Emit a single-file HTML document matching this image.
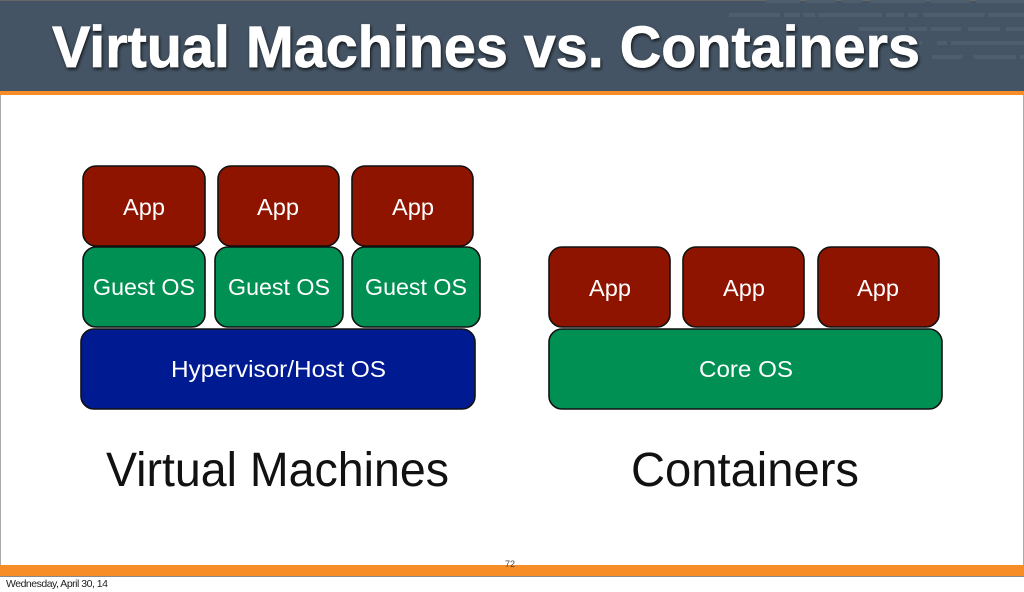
<!DOCTYPE html>
<html>
<head>
<meta charset="utf-8">
<style>
html,body{margin:0;padding:0;background:#fff;width:1024px;height:592px;overflow:hidden}
svg{display:block}
text{font-family:"Liberation Sans",sans-serif}
.l{fill:#fff;font-size:23px;text-anchor:start}
.b{fill:#111;font-size:48px}
</style>
</head>
<body>
<svg width="1024" height="592" viewBox="0 0 1024 592" xmlns="http://www.w3.org/2000/svg">
<defs>
<filter id="s" x="-5%" y="-20%" width="110%" height="150%"><feDropShadow dx="1" dy="2" stdDeviation="1.5" flood-color="#000" flood-opacity=".75"/></filter>
</defs>
<rect width="1024" height="592" fill="#fff"/>
<rect x="0" y="95" width="1" height="470" fill="#aaa"/>
<rect x="1023" y="95" width="1" height="470" fill="#aaa"/>
<rect width="1024" height="91" fill="#445464"/>
<rect width="1024" height="1" fill="#666"/>
<rect y="91" width="1024" height="4" fill="#f68d26"/>
<g fill="#4e5e6d">
<rect x="766" y="0" width="30" height="3"/><rect x="786" y="0" width="14" height="3"/><rect x="806" y="0" width="30" height="3"/><rect x="842" y="0" width="20" height="3"/><rect x="870" y="0" width="56" height="3"/><rect x="930" y="0" width="40" height="3"/><rect x="976" y="0" width="48" height="3"/>
<rect x="729" y="13" width="51" height="4"/><rect x="784" y="13" width="16" height="4"/><rect x="803" y="13" width="12" height="4"/><rect x="818" y="13" width="64" height="4"/><rect x="886" y="13" width="18" height="4"/><rect x="908" y="13" width="10" height="4"/><rect x="923" y="13" width="62" height="4"/><rect x="988" y="13" width="36" height="4"/>
<rect x="859" y="27" width="46" height="4"/><rect x="909" y="27" width="18" height="4"/><rect x="931" y="27" width="30" height="4"/><rect x="968" y="27" width="32" height="4"/><rect x="1006" y="27" width="18" height="4"/>
<rect x="900" y="41" width="22" height="4"/><rect x="937" y="41" width="10" height="4"/><rect x="951" y="41" width="73" height="4"/>
<rect x="932" y="55" width="30" height="4"/><rect x="974" y="55" width="42" height="4"/><rect x="1020" y="55" width="4" height="4"/>
</g>
<text x="52" y="67" font-size="58.5" font-weight="700" fill="#fff" stroke="#fff" stroke-width=".7" filter="url(#s)" textLength="868" lengthAdjust="spacingAndGlyphs">Virtual Machines vs. Containers</text>
<g stroke="#111" stroke-width="1.6">
<rect x="83" y="166" width="122" height="80" rx="13" fill="#8f1400"/>
<rect x="218" y="166" width="121" height="80" rx="13" fill="#8f1400"/>
<rect x="352" y="166" width="121" height="80" rx="13" fill="#8f1400"/>
<rect x="83" y="247" width="122" height="80" rx="13" fill="#009053"/>
<rect x="215" y="247" width="128" height="80" rx="13" fill="#009053"/>
<rect x="352" y="247" width="128" height="80" rx="13" fill="#009053"/>
<rect x="81" y="329" width="394" height="80" rx="13" fill="#001a92"/>
<rect x="549" y="247" width="121" height="80" rx="13" fill="#8f1400"/>
<rect x="683" y="247" width="121" height="80" rx="13" fill="#8f1400"/>
<rect x="818" y="247" width="121" height="80" rx="13" fill="#8f1400"/>
<rect x="549" y="329" width="393" height="80" rx="13" fill="#009053"/>
</g>
<g class="t">
<text class="l" x="123" y="215" textLength="42" lengthAdjust="spacingAndGlyphs">App</text>
<text class="l" x="257" y="215" textLength="42" lengthAdjust="spacingAndGlyphs">App</text>
<text class="l" x="392" y="215" textLength="42" lengthAdjust="spacingAndGlyphs">App</text>
<text class="l" x="93" y="295" textLength="102" lengthAdjust="spacingAndGlyphs">Guest OS</text>
<text class="l" x="228" y="295" textLength="102" lengthAdjust="spacingAndGlyphs">Guest OS</text>
<text class="l" x="365" y="295" textLength="102" lengthAdjust="spacingAndGlyphs">Guest OS</text>
<text class="l" x="171" y="377" textLength="215" lengthAdjust="spacingAndGlyphs">Hypervisor/Host OS</text>
<text class="l" x="589" y="296" textLength="42" lengthAdjust="spacingAndGlyphs">App</text>
<text class="l" x="723" y="296" textLength="42" lengthAdjust="spacingAndGlyphs">App</text>
<text class="l" x="857" y="296" textLength="42" lengthAdjust="spacingAndGlyphs">App</text>
<text class="l" x="699" y="377" textLength="94" lengthAdjust="spacingAndGlyphs">Core OS</text>
</g>
<text class="b" x="106" y="486" textLength="343" lengthAdjust="spacingAndGlyphs">Virtual Machines</text>
<text class="b" x="631" y="486" textLength="228" lengthAdjust="spacingAndGlyphs">Containers</text>
<rect y="565" width="1024" height="11" fill="#f68d26"/>
<rect y="576" width="1024" height="1" fill="#8a8a8a"/>
<text x="505" y="567" font-size="9" fill="#444">72</text>
<text x="6" y="587" font-size="10.5" fill="#222" textLength="102" lengthAdjust="spacing">Wednesday, April 30, 14</text>
</svg>
</body>
</html>
